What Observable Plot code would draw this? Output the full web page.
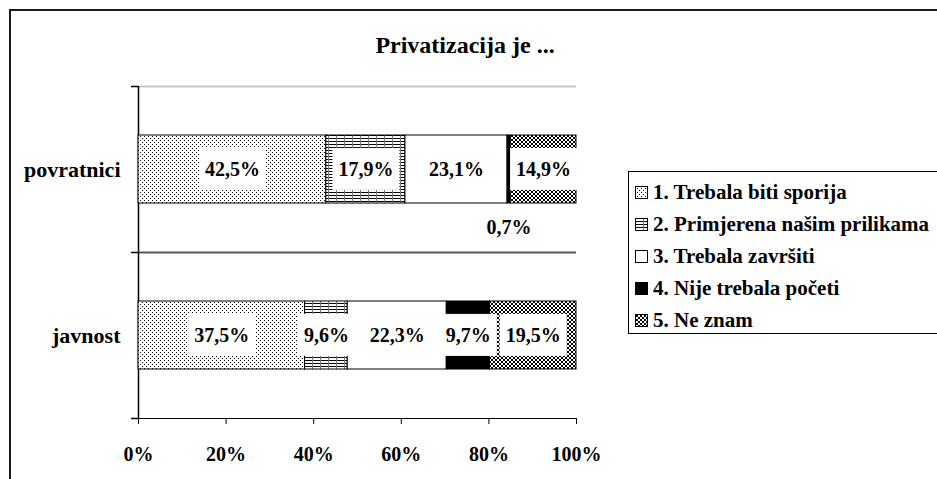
<!DOCTYPE html>
<html><head><meta charset="utf-8">
<script src="https://cdn.jsdelivr.net/npm/d3@7"></script>
<script src="https://cdn.jsdelivr.net/npm/@observablehq/plot@0.6"></script>
<style>
body{margin:0;background:#fff;}
#wrap{position:relative;width:937px;height:479px;overflow:hidden;font-family:'Liberation Serif','Times New Roman',serif;font-weight:bold;color:#000;background:#fff;}
#frame{position:absolute;left:9px;top:9px;width:1000px;height:1000px;border:2px solid #1a1a1a;}
#title{position:absolute;left:315px;width:300px;top:31px;text-align:center;font-size:24px;line-height:28px;}
#chart{position:absolute;left:0;top:0;}
#legend{position:absolute;left:628px;top:171px;width:400px;height:163px;border:1px solid #000;background:#fff;padding-top:4px;box-sizing:border-box;}
.item{height:32px;display:flex;align-items:center;font-size:21px;white-space:nowrap;}
.sw{width:13px;height:13px;margin-left:6px;margin-right:5px;display:block;}
</style></head><body>
<svg width="0" height="0" style="position:absolute"><defs>
<pattern id="p1" width="4" height="4" patternUnits="userSpaceOnUse"><rect width="4" height="4" fill="#fff"/><rect x="0" y="0" width="1" height="1" fill="#000"/><rect x="2" y="2" width="1" height="1" fill="#000"/></pattern>
<pattern id="p2" width="8" height="3" patternUnits="userSpaceOnUse"><rect width="8" height="3" fill="#fff"/><rect x="0" y="0" width="8" height="1" fill="#000"/><rect x="0" y="0" width="1" height="3" fill="#777"/></pattern>
<pattern id="p3" width="4" height="4" patternUnits="userSpaceOnUse"><rect width="4" height="4" fill="#fff"/></pattern>
<pattern id="p4" width="4" height="4" patternUnits="userSpaceOnUse"><rect width="4" height="4" fill="#000"/></pattern>
<pattern id="p5" width="4" height="4" patternUnits="userSpaceOnUse"><rect width="4" height="4" fill="#fff"/><path d="M0,0L4,4M4,0L0,4" stroke="#000" stroke-width="1"/></pattern>
</defs></svg>
<div id="wrap"><div id="frame"></div><div id="title">Privatizacija je ...</div><div id="chart"></div><div id="legend"></div></div>
<script>
const groups = ["povratnici", "javnost"];
const answers = ["1. Trebala biti sporija", "2. Primjerena našim prilikama", "3. Trebala završiti", "4. Nije trebala početi", "5. Ne znam"];
const povratnici = [42.5, 17.9, 23.1, 0.7, 14.9];
const javnost = [37.5, 9.6, 22.3, 9.7, 19.5];
const xTicks = [0, 0.2, 0.4, 0.6, 0.8, 1];
const xTickLabels = ["0%", "20%", "40%", "60%", "80%", "100%"];
const patterns = ["url(#p1)", "url(#p2)", "url(#p3)", "url(#p4)", "url(#p5)"];

const data = [];
groups.forEach((g, gi) => {
  const vals = gi === 0 ? povratnici : javnost;
  answers.forEach((a, ai) => data.push({group: g, answer: a, value: vals[ai]}));
});
const fmt = v => v.toFixed(1).replace(".", ",") + "%";
const stackOpts = {x: "value", y: "group", z: "answer", offset: "normalize"};
const halfBand = (418 - 86) / 4; // half of a category band
const FONT = "'Liberation Serif','Times New Roman',serif";

const chart = Plot.plot({
  width: 600, height: 479,
  marginTop: 86, marginBottom: 61, marginLeft: 138, marginRight: 24,
  style: {fontFamily: FONT, fontSize: "20px", fontWeight: "bold", background: "transparent", overflow: "visible", color: "#000"},
  x: {domain: [0, 1], ticks: xTicks, tickFormat: d => xTickLabels[xTicks.indexOf(d)], tickSize: 6, tickPadding: 22, line: true, label: null},
  y: {domain: groups, padding: 0, axis: null},
  color: {domain: answers, range: patterns},
  marks: [
    Plot.ruleY([groups[0]], {y: d => d, x1: 0, x2: 1, dy: -halfBand, stroke: "#c8c8c8", strokeWidth: 2}),
    Plot.ruleY([groups[1]], {y: d => d, x1: 0, x2: 1, dy: -halfBand, stroke: "#555", strokeWidth: 2}),
    Plot.ruleY(groups, {y: d => d, x1: 0, x2: 0, dy: -halfBand, insetLeft: -7, stroke: "#000", strokeWidth: 1.5}),
    Plot.ruleY([groups[1]], {y: d => d, x1: 0, x2: 0, dy: halfBand, insetLeft: -7, stroke: "#000", strokeWidth: 1.5}),
    Plot.ruleX([0], {stroke: "#000", strokeWidth: 1.5}),
    Plot.text(groups, {y: d => d, text: d => d, frameAnchor: "left", textAnchor: "end", dx: -18, fontSize: 22, fill: "#000"}),
    Plot.barX(data, Plot.stackX({...stackOpts, fill: "answer", stroke: "#000", strokeWidth: 1, insetTop: 49, insetBottom: 49})),
    Plot.text(data, Plot.stackX({...stackOpts, text: d => d.value >= 1 ? fmt(d.value) : null, fill: "#000"})),
    Plot.text(data, Plot.stackX({...stackOpts, text: d => d.value < 1 ? fmt(d.value) : null, dy: 58, fill: "#000"}))
  ]
});
document.getElementById("chart").appendChild(chart);

// white label boxes behind in-bar labels (the second text mark)
const textGroups = chart.querySelectorAll('g[aria-label="text"]');
if (textGroups.length >= 2) {
  const g = textGroups[1];
  g.querySelectorAll("text").forEach(t => {
    const b = t.getBBox();
    const r = document.createElementNS("http://www.w3.org/2000/svg", "rect");
    const cy = b.y + b.height / 2;
    r.setAttribute("x", b.x - 6);
    r.setAttribute("width", b.width + 12);
    r.setAttribute("y", cy - 21);
    r.setAttribute("height", 42);
    r.setAttribute("fill", "#fff");
    const tr = t.getAttribute("transform");
    if (tr) r.setAttribute("transform", tr);
    g.insertBefore(r, t);
  });
}

// legend
const legend = document.getElementById("legend");
answers.forEach((a, i) => {
  const item = document.createElement("div");
  item.className = "item";
  item.innerHTML = `<svg class="sw" width="13" height="13"><rect x="0.5" y="0.5" width="12" height="12" fill="${patterns[i]}" stroke="#000"/></svg><span>${a}</span>`;
  legend.appendChild(item);
});
</script>
</body></html>
